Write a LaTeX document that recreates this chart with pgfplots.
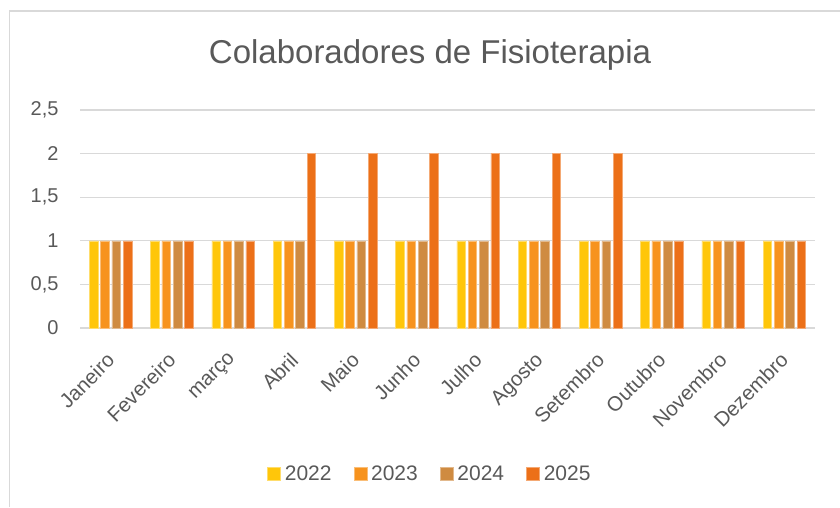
\documentclass[border=0pt]{standalone}
\usepackage{pgfplots}
\pgfplotsset{compat=1.18}
\usepackage{fontspec}
\setmainfont{Liberation Sans}
\definecolor{c22}{RGB}{255,198,10}
\definecolor{c23}{RGB}{247,147,30}
\definecolor{c24}{RGB}{207,139,65}
\definecolor{c25}{RGB}{236,112,24}
\definecolor{txt}{RGB}{89,89,89}
\definecolor{grd}{RGB}{217,217,217}
\begin{document}
\begin{tikzpicture}[x=1pt,y=1pt]
\useasboundingbox (0,0) rectangle (840,507);
\draw[grd, line width=1.2pt] (9.5,0) -- (9.5,496) -- (840,496);
\node[txt, font=\fontsize{33}{38}\selectfont] at (430,452) {Colaboradores de Fisioterapia};
\begin{axis}[
  at={(80pt,179pt)}, anchor=south west, scale only axis,
  width=735pt, height=218pt,
  xmin=-0.5, xmax=11.5, ymin=0, ymax=2.5,
  ybar, bar width=8.6pt,
  axis line style={draw=none},
  major tick length=0pt, tick style={draw=none},
  ymajorgrids, major grid style={grd, line width=1.2pt},
  ytick={0,0.5,1,1.5,2,2.5},
  xtick={0,...,11},
  xticklabels={Janeiro,Fevereiro,março,Abril,Maio,Junho,Julho,Agosto,Setembro,Outubro,Novembro,Dezembro},
  xticklabel style={rotate=45, anchor=north east, font=\fontsize{20.5}{24}\selectfont, text=txt, xshift=-16.8pt, yshift=-9.2pt},
  yticklabel style={font=\fontsize{20}{24}\selectfont, text=txt, xshift=-18pt},
  /pgf/number format/.cd, use comma, assume math mode=true,
  /pgfplots/.cd,
  legend columns=4,
  legend style={at={(0.476,-0.67)}, anchor=center, draw=none, fill=none,
    font=\fontsize{21}{25}\selectfont, text=txt,
    /tikz/every odd column/.append style={column sep=2pt},
    /tikz/every even column/.append style={column sep=20pt}},
  legend image code/.code={\fill[#1] (0pt,-6.5pt) rectangle (13pt,6.5pt);},
]
\addplot[fill=c22, draw=c22!60!white, line width=0.6pt, bar shift=-17pt] coordinates {(0,1)(1,1)(2,1)(3,1)(4,1)(5,1)(6,1)(7,1)(8,1)(9,1)(10,1)(11,1)};
\addplot[fill=c23, draw=c23!60!white, line width=0.6pt, bar shift=-5.65pt] coordinates {(0,1)(1,1)(2,1)(3,1)(4,1)(5,1)(6,1)(7,1)(8,1)(9,1)(10,1)(11,1)};
\addplot[fill=c24, draw=c24!60!white, line width=0.6pt, bar shift=5.65pt] coordinates {(0,1)(1,1)(2,1)(3,1)(4,1)(5,1)(6,1)(7,1)(8,1)(9,1)(10,1)(11,1)};
\addplot[fill=c25, draw=c25!60!white, line width=0.6pt, bar shift=17pt] coordinates {(0,1)(1,1)(2,1)(3,2)(4,2)(5,2)(6,2)(7,2)(8,2)(9,1)(10,1)(11,1)};
\legend{2022,2023,2024,2025}
\end{axis}
\end{tikzpicture}
\end{document}
